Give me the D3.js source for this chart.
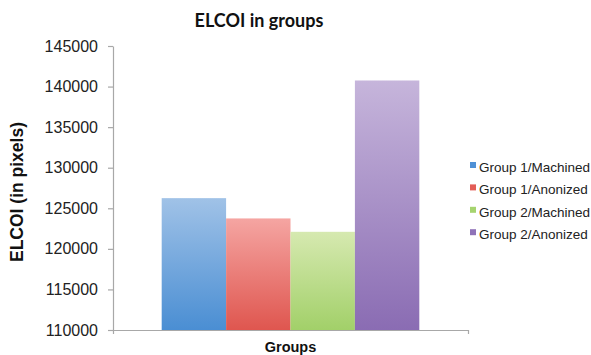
<!DOCTYPE html>
<html>
<head>
<meta charset="utf-8">
<script src="https://cdn.jsdelivr.net/npm/d3@7/dist/d3.min.js"></script>
<style>
  html, body { margin: 0; padding: 0; background: #fff; }
  svg { display: block; }
</style>
</head>
<body>
<svg id="chart" width="591" height="355"></svg>
<script>
// Chart data
const categories = ["Groups"];
const seriesNames = ["Group 1/Machined", "Group 1/Anonized", "Group 2/Machined", "Group 2/Anonized"];
const seriesValues = [126250, 123750, 122100, 140750];
const yTicks = [110000, 115000, 120000, 125000, 130000, 135000, 140000, 145000];

// Gradient stops per series: [top, bottom]
const seriesColors = [
  ["#a0c2e7", "#4a8ed3"],
  ["#f5a5a2", "#df564f"],
  ["#d6e9b0", "#a2d069"],
  ["#c6b5db", "#8a6cb3"]
];
const legendColors = ["#4f91d6", "#e35d57", "#a6d46f", "#8f72b8"];

const svg = d3.select("#chart");
const plot = { left: 113, right: 468, top: 46, bottom: 330 };

const y = d3.scaleLinear()
  .domain([110000, 145000])
  .range([plot.bottom, plot.top]);

const x0 = d3.scaleBand()
  .domain(categories)
  .range([plot.left, plot.right])
  .paddingOuter(0.189)
  .paddingInner(0);

const x1 = d3.scaleBand()
  .domain(seriesNames)
  .range([0, x0.bandwidth()])
  .padding(0);

// Gradients
const defs = svg.append("defs");
seriesColors.forEach((c, i) => {
  const g = defs.append("linearGradient")
    .attr("id", "grad" + i)
    .attr("x1", 0).attr("y1", 0).attr("x2", 0).attr("y2", 1);
  g.append("stop").attr("offset", "0%").attr("stop-color", c[0]);
  g.append("stop").attr("offset", "100%").attr("stop-color", c[1]);
});

// Bars
const groups = svg.append("g")
  .selectAll("g")
  .data(categories)
  .join("g")
  .attr("transform", d => `translate(${x0(d)},0)`);

groups.selectAll("rect")
  .data(() => seriesNames.map((name, i) => ({ name, value: seriesValues[i], i })))
  .join("rect")
  .attr("x", d => x1(d.name))
  .attr("y", d => y(d.value))
  .attr("width", x1.bandwidth())
  .attr("height", d => y(110000) - y(d.value))
  .attr("fill", d => `url(#grad${d.i})`);

// Y axis
const yAxis = svg.append("g")
  .attr("transform", `translate(${plot.left},0)`)
  .call(d3.axisLeft(y).tickValues(yTicks).tickSize(5).tickSizeOuter(0).tickPadding(10).tickFormat(d3.format("d")));
yAxis.select(".domain").attr("stroke", "#a8a8a8").attr("stroke-width", 1.2);
yAxis.selectAll(".tick line").attr("stroke", "#a8a8a8").attr("stroke-width", 1.2);
yAxis.selectAll(".tick text")
  .attr("fill", "#222")
  .style("font-family", "Liberation Sans, Arial, sans-serif")
  .style("font-size", "16px");

// X axis
const xAxis = svg.append("g")
  .attr("transform", `translate(0,${plot.bottom})`)
  .call(d3.axisBottom(x0).tickValues([]).tickSizeOuter(4));
xAxis.select(".domain").attr("stroke", "#a8a8a8").attr("stroke-width", 1.2).attr("fill", "none");

// Title
svg.append("text")
  .attr("x", 259)
  .attr("y", 27)
  .attr("text-anchor", "middle")
  .style("font-family", "Lato, 'Open Sans', sans-serif")
  .style("font-weight", "bold")
  .style("font-size", "18px")
  .attr("fill", "#111")
  .text("ELCOI in groups");

// Y axis title
svg.append("text")
  .attr("transform", "translate(23,192) rotate(-90)")
  .attr("text-anchor", "middle")
  .style("font-family", "Liberation Sans, Arial, sans-serif")
  .style("font-weight", "bold")
  .style("font-size", "17.5px")
  .attr("fill", "#111")
  .text("ELCOI (in pixels)");

// X axis title
svg.append("text")
  .attr("x", (plot.left + plot.right) / 2)
  .attr("y", 352)
  .attr("text-anchor", "middle")
  .style("font-family", "Liberation Sans, Arial, sans-serif")
  .style("font-weight", "bold")
  .style("font-size", "14.5px")
  .attr("fill", "#111")
  .text("Groups");

// Legend
const legend = svg.append("g").attr("transform", "translate(470,167)");
const items = legend.selectAll("g")
  .data(seriesNames)
  .join("g")
  .attr("transform", (d, i) => `translate(0,${i * 22.4})`);
items.append("rect")
  .attr("x", 0).attr("y", -5)
  .attr("width", 6).attr("height", 6)
  .attr("fill", (d, i) => legendColors[i]);
items.append("text")
  .attr("x", 9)
  .attr("y", 5)
  .style("font-family", "Liberation Sans, Arial, sans-serif")
  .style("font-size", "13.5px")
  .attr("fill", "#222")
  .text(d => d);
</script>
</body>
</html>
